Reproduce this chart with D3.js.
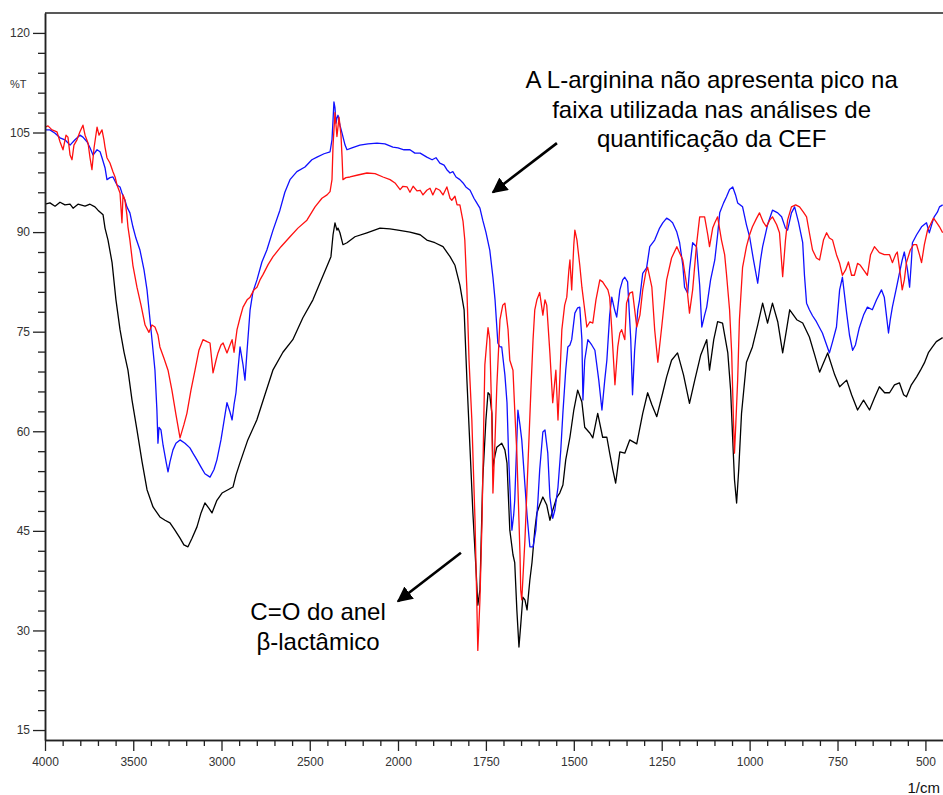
<!DOCTYPE html>
<html>
<head>
<meta charset="utf-8">
<script src="https://cdn.jsdelivr.net/npm/d3@7"></script>
<style>
  html, body { margin: 0; padding: 0; background: #fff; }
  svg { display: block; }
  text { font-family: Arial, "Liberation Sans", Helvetica, sans-serif; }
</style>
</head>
<body>
<svg id="chart" width="943" height="795"></svg>
<script>
// ---------------- DATA ----------------
// Wavenumber (1/cm) and transmittance (%T).
const yMajorTicks = [15, 30, 45, 60, 75, 90, 105, 120];
const xMajorTicks = [4000, 3500, 3000, 2500, 2000, 1750, 1500, 1250, 1000, 750, 500];
const yAxisTitle = "%T";
const xAxisTitle = "1/cm";

const blackSpectrum = [
[4000,94.2],[3972,94.4],[3943,93.9],[3915,94.5],[3887,94.1],[3858,94.2],[3841,93.6],[3813,94.2],[3773,93.9],[3745,94.2],[3717,93.8],[3700,93.3],[3671,92.6],[3660,90.6],[3643,88.8],[3620,85.4],[3598,79.8],[3575,75.3],[3552,71.9],[3530,69.2],[3507,64.7],[3479,60.2],[3450,55.4],[3422,51.2],[3388,48.6],[3349,47.1],[3320,46.6],[3292,46.2],[3264,45.1],[3235,43.9],[3213,42.9],[3190,42.6],[3167,43.9],[3139,45.6],[3116,47.7],[3094,49.2],[3071,48.4],[3054,47.7],[3026,49.6],[2997,50.7],[2963,51.2],[2935,51.6],[2918,53.4],[2896,55.2],[2851,58.7],[2800,61.7],[2754,65.5],[2709,69.2],[2652,71.9],[2596,73.8],[2539,77.1],[2482,79.8],[2443,82.3],[2403,84.8],[2380,86.3],[2368,89.6],[2357,91.4],[2346,90.3],[2340,90.6],[2329,89.9],[2312,88.1],[2289,88.4],[2244,89.3],[2176,89.9],[2102,90.6],[2046,90.5],[2000,90.3],[1966,90.0],[1937,89.6],[1918,88.8],[1895,88.4],[1872,87.8],[1852,86.3],[1838,85.0],[1824,82.0],[1812,78.3],[1804,67.7],[1795,57.2],[1787,47.7],[1778,39.1],[1773,33.8],[1767,36.1],[1759,52.7],[1750,61.7],[1744,65.8],[1739,65.5],[1733,62.7],[1730,54.6],[1724,56.4],[1719,57.6],[1705,58.2],[1696,57.2],[1690,55.2],[1682,45.1],[1673,41.4],[1668,40.2],[1662,33.1],[1656,27.5],[1651,30.8],[1645,35.0],[1639,34.6],[1633,33.1],[1625,37.6],[1619,40.2],[1611,45.1],[1605,47.7],[1597,48.9],[1588,50.1],[1577,48.9],[1568,46.6],[1560,48.1],[1548,50.1],[1540,50.7],[1531,51.9],[1523,55.7],[1511,59.1],[1500,63.2],[1489,66.2],[1477,64.4],[1469,60.6],[1454,59.7],[1446,59.0],[1432,62.7],[1418,59.1],[1406,59.1],[1398,56.7],[1389,54.2],[1381,52.2],[1369,56.9],[1355,56.7],[1341,58.7],[1321,58.1],[1304,62.7],[1290,65.8],[1278,64.0],[1264,62.2],[1247,65.8],[1236,68.2],[1222,70.7],[1205,71.8],[1188,68.5],[1171,64.2],[1156,67.7],[1139,71.5],[1122,73.8],[1114,69.2],[1102,73.8],[1091,76.5],[1077,76.3],[1062,71.8],[1054,66.2],[1048,58.7],[1043,52.7],[1037,49.2],[1031,54.2],[1023,62.7],[1009,70.4],[992,72.7],[977,76.0],[963,79.3],[949,76.3],[935,79.3],[920,76.5],[906,71.8],[895,75.3],[886,78.3],[866,76.8],[849,76.3],[830,74.2],[815,71.5],[801,68.9],[778,71.8],[758,68.5],[744,66.7],[724,67.7],[710,65.5],[693,63.2],[676,64.7],[659,63.2],[645,65.0],[631,66.7],[616,65.8],[602,65.8],[588,67.0],[574,67.3],[562,65.5],[554,65.2],[540,67.0],[525,68.2],[514,69.2],[503,70.3],[491,71.9],[480,72.7],[469,73.5],[460,73.8],[451,74.1]
];

const redSpectrum = [
[4000,105.8],[3983,106.0],[3960,105.4],[3932,105.1],[3915,103.6],[3898,102.4],[3881,104.6],[3870,104.3],[3858,101.6],[3847,100.9],[3836,103.1],[3819,103.9],[3802,105.1],[3785,106.1],[3773,104.6],[3756,103.4],[3745,101.2],[3734,99.4],[3722,102.7],[3705,105.8],[3694,104.6],[3677,105.4],[3666,103.9],[3660,102.8],[3649,101.2],[3632,100.4],[3615,99.1],[3603,98.3],[3592,97.1],[3575,95.9],[3564,91.4],[3558,95.6],[3547,94.8],[3536,92.6],[3530,90.8],[3519,88.8],[3502,85.0],[3479,81.7],[3456,79.0],[3433,76.0],[3411,74.9],[3394,76.0],[3377,75.7],[3360,74.5],[3349,72.7],[3326,71.0],[3303,69.2],[3281,66.2],[3258,62.5],[3235,59.0],[3213,61.0],[3196,62.7],[3173,66.2],[3150,69.2],[3128,72.2],[3105,73.8],[3082,73.5],[3065,73.3],[3048,68.8],[3031,70.7],[3020,71.8],[3003,73.0],[2991,73.3],[2969,71.8],[2952,73.0],[2940,73.8],[2929,71.9],[2912,75.3],[2895,77.1],[2878,78.7],[2855,79.8],[2838,80.2],[2816,81.3],[2799,81.7],[2782,82.8],[2765,83.6],[2736,85.1],[2708,86.3],[2663,87.8],[2612,89.3],[2567,90.6],[2516,91.8],[2470,93.8],[2431,95.1],[2402,95.6],[2385,96.1],[2374,97.9],[2368,103.1],[2357,108.0],[2346,104.4],[2334,107.3],[2323,104.6],[2317,101.3],[2312,97.9],[2295,98.2],[2272,98.3],[2227,98.6],[2176,98.9],[2130,98.8],[2085,98.3],[2045,97.9],[2017,97.4],[1994,96.4],[1986,96.9],[1974,96.8],[1966,96.0],[1957,96.9],[1946,96.2],[1937,96.3],[1929,95.6],[1918,96.3],[1909,96.6],[1901,95.6],[1892,96.6],[1881,96.3],[1872,95.6],[1861,96.8],[1852,95.1],[1847,94.8],[1838,95.4],[1832,94.1],[1824,94.1],[1815,91.6],[1810,88.8],[1804,81.3],[1798,70.7],[1790,61.7],[1781,46.6],[1776,34.6],[1773,27.0],[1767,34.6],[1761,46.6],[1756,61.7],[1753,70.0],[1744,75.6],[1739,73.8],[1733,61.7],[1730,50.7],[1724,58.7],[1719,66.7],[1710,76.8],[1702,79.0],[1696,79.3],[1687,75.3],[1682,70.7],[1673,69.2],[1668,63.2],[1662,56.7],[1656,46.6],[1653,41.4],[1651,36.1],[1648,34.6],[1645,37.6],[1639,43.6],[1631,54.2],[1622,66.2],[1616,73.7],[1611,78.3],[1605,79.8],[1597,80.9],[1588,77.5],[1582,79.8],[1577,79.0],[1568,71.8],[1560,64.3],[1551,69.2],[1545,61.7],[1540,67.7],[1534,75.3],[1526,79.0],[1520,80.2],[1514,84.3],[1511,85.8],[1506,81.3],[1500,88.1],[1497,90.3],[1491,88.8],[1489,87.8],[1483,85.0],[1477,81.7],[1469,78.3],[1463,75.7],[1454,76.5],[1446,76.3],[1437,79.8],[1426,82.8],[1418,82.5],[1412,82.0],[1403,81.3],[1398,80.2],[1392,75.3],[1383,67.0],[1375,72.7],[1369,74.8],[1364,75.3],[1355,73.8],[1350,79.3],[1341,80.8],[1333,81.0],[1321,75.7],[1312,77.5],[1304,81.3],[1295,84.0],[1290,84.7],[1278,81.7],[1270,75.3],[1261,70.4],[1250,75.7],[1236,82.8],[1222,86.1],[1207,87.8],[1190,85.8],[1179,82.0],[1171,77.8],[1162,81.3],[1151,88.1],[1142,92.3],[1128,92.3],[1119,89.6],[1114,87.8],[1105,90.6],[1099,91.4],[1091,92.3],[1080,88.8],[1071,86.6],[1066,83.8],[1057,78.3],[1051,71.8],[1046,61.7],[1043,56.7],[1040,60.2],[1034,67.7],[1029,76.8],[1020,84.7],[1009,87.8],[1000,89.6],[992,90.8],[980,92.1],[972,92.9],[961,91.5],[952,90.8],[943,91.8],[935,92.3],[923,91.1],[915,89.9],[906,83.3],[898,88.8],[892,91.8],[881,93.8],[869,94.1],[858,93.8],[847,93.0],[838,92.3],[830,89.9],[821,87.3],[810,86.1],[801,85.8],[790,88.8],[781,89.9],[773,89.1],[764,88.8],[753,86.6],[744,85.3],[736,83.5],[727,84.3],[719,85.5],[710,83.5],[702,83.5],[693,85.3],[685,85.0],[676,84.3],[665,83.5],[656,86.6],[645,87.8],[631,86.9],[617,86.6],[602,86.6],[594,85.4],[585,86.6],[580,87.0],[571,83.5],[566,81.3],[560,82.8],[554,85.4],[543,87.3],[534,88.1],[525,88.1],[517,86.6],[511,85.4],[503,88.1],[494,90.3],[486,91.1],[477,92.1],[469,91.5],[460,90.8],[451,89.9]
];

const blueSpectrum = [
[4000,105.4],[3972,105.4],[3943,104.9],[3915,104.2],[3887,103.9],[3858,103.1],[3830,103.9],[3802,104.6],[3785,104.3],[3762,103.6],[3745,102.7],[3728,101.6],[3705,102.4],[3688,102.1],[3677,101.2],[3660,99.7],[3649,97.9],[3632,98.2],[3615,98.3],[3592,97.1],[3575,96.8],[3564,95.9],[3547,94.8],[3536,93.8],[3519,92.9],[3502,90.8],[3485,89.1],[3462,87.3],[3439,84.3],[3422,81.3],[3405,76.8],[3388,72.2],[3377,69.2],[3366,63.2],[3360,58.2],[3354,60.6],[3343,60.2],[3331,57.9],[3314,55.4],[3303,53.9],[3292,55.4],[3275,57.2],[3258,58.2],[3235,58.7],[3207,58.2],[3179,57.5],[3162,56.7],[3139,55.7],[3116,54.6],[3094,53.6],[3065,53.1],[3043,54.2],[3026,55.7],[3003,58.7],[2980,62.5],[2969,64.3],[2952,62.9],[2940,61.7],[2929,64.0],[2918,65.8],[2907,69.2],[2895,72.7],[2878,70.0],[2867,67.7],[2855,72.2],[2838,78.3],[2822,81.0],[2799,82.8],[2771,85.5],[2743,87.3],[2708,90.3],[2669,93.3],[2641,96.0],[2612,97.9],[2573,99.1],[2527,99.8],[2488,100.9],[2459,101.3],[2419,101.8],[2385,102.1],[2374,103.9],[2368,106.9],[2363,109.6],[2357,108.7],[2351,106.4],[2346,107.2],[2340,107.6],[2329,106.1],[2317,104.9],[2300,103.1],[2289,102.4],[2261,102.7],[2216,103.1],[2170,103.3],[2119,103.4],[2074,103.3],[2029,102.8],[2000,102.7],[1983,102.4],[1966,102.4],[1952,101.9],[1937,101.9],[1918,101.3],[1903,100.9],[1892,101.2],[1881,100.4],[1869,100.1],[1861,99.4],[1852,98.9],[1844,99.1],[1835,98.3],[1824,97.9],[1815,97.4],[1807,96.8],[1795,96.3],[1784,95.1],[1776,94.4],[1767,93.6],[1759,91.8],[1750,90.0],[1739,87.3],[1730,83.2],[1724,79.8],[1716,73.3],[1710,72.7],[1705,72.7],[1696,68.5],[1690,64.3],[1685,55.7],[1679,48.1],[1676,45.1],[1671,47.4],[1668,49.6],[1662,58.7],[1659,63.2],[1653,60.9],[1648,58.7],[1639,51.9],[1633,47.4],[1625,42.6],[1616,42.6],[1608,45.1],[1602,49.6],[1597,54.2],[1588,59.9],[1582,60.2],[1574,56.7],[1568,50.1],[1560,46.9],[1554,48.1],[1545,51.6],[1537,57.2],[1531,62.8],[1523,69.2],[1517,72.7],[1511,73.0],[1506,73.8],[1497,77.8],[1489,78.6],[1483,78.7],[1477,73.8],[1474,64.7],[1469,70.7],[1460,73.8],[1449,73.0],[1440,72.2],[1429,67.7],[1420,63.2],[1412,67.7],[1406,70.7],[1398,77.5],[1392,80.2],[1384,78.3],[1378,77.2],[1369,81.3],[1361,82.8],[1355,83.2],[1347,82.5],[1338,73.8],[1333,65.5],[1327,72.2],[1318,78.3],[1313,79.8],[1304,83.8],[1293,84.6],[1284,87.8],[1270,88.8],[1256,90.6],[1247,91.4],[1236,92.1],[1227,91.8],[1219,91.4],[1207,90.0],[1199,88.4],[1190,85.0],[1185,81.7],[1176,80.8],[1171,84.3],[1162,88.4],[1151,87.8],[1142,82.0],[1136,75.7],[1128,77.5],[1122,78.7],[1111,82.8],[1099,85.8],[1091,89.6],[1085,92.9],[1074,94.4],[1066,95.3],[1057,96.4],[1048,96.8],[1040,95.6],[1034,94.4],[1020,93.8],[1009,91.1],[1000,89.3],[989,85.8],[977,82.3],[969,85.8],[963,87.8],[949,91.1],[935,93.3],[920,92.9],[909,92.3],[898,90.6],[892,90.3],[881,92.9],[872,93.8],[861,91.5],[849,88.4],[844,83.5],[838,79.3],[830,78.3],[821,77.4],[810,76.5],[801,75.6],[793,74.8],[781,73.0],[773,71.8],[764,73.5],[753,75.7],[744,81.3],[736,83.2],[724,77.8],[716,74.5],[707,72.2],[699,73.0],[688,75.6],[676,77.5],[665,78.7],[651,78.3],[639,79.8],[625,81.3],[617,80.2],[611,77.5],[605,74.8],[600,76.8],[594,78.7],[582,81.7],[574,83.8],[566,85.8],[560,87.0],[551,84.3],[545,81.7],[540,85.5],[537,88.4],[525,89.6],[511,90.8],[497,91.4],[489,89.9],[480,91.5],[475,92.3],[466,93.0],[460,93.8],[451,94.1]
];

// Annotations: text anchors and arrows (tail -> head) in data coordinates
const noteArginine = ["A L-arginina não apresenta pico na", "faixa utilizada nas análises de", "quantificação da CEF"];
const noteArginineAnchor = [1108, 111.7];
const noteCarbonyl = ["C=O do anel", "β-lactâmico"];
const noteCarbonylAnchor = [2453, 31.5];
const arrowArginine = [[1548, 103.4], [1730, 96.0]];
const arrowCarbonyl = [[1821, 41.7], [2000, 34.4]];

// ---------------- CHART ----------------
const svg = d3.select("#chart");
const mLeft = 45, mRight = 943, mTop = 13, mBottom = 740;

// Shimadzu-style abscissa: scale changes at 2000 1/cm
const x = d3.scaleLinear().domain([4000, 2000, 450]).range([mLeft, 398, mRight]);
const y = d3.scaleLinear().domain([123, 13.5]).range([mTop, mBottom]);

const axisColor = "#222";

// spectra
const line = d3.line().x(d => x(d[0])).y(d => y(d[1])).curve(d3.curveLinear);
svg.append("clipPath").attr("id", "plotclip").append("rect")
  .attr("x", mLeft).attr("y", mTop).attr("width", mRight - mLeft).attr("height", mBottom - mTop);
const plot = svg.append("g").attr("clip-path", "url(#plotclip)");
[[blackSpectrum, "#000000"], [blueSpectrum, "#1010ff"], [redSpectrum, "#ff1010"]].forEach(([data, color]) => {
  plot.append("path").datum(data).attr("d", line)
    .attr("fill", "none").attr("stroke", color).attr("stroke-width", 1.3)
    .attr("stroke-linejoin", "round");
});

// frame top line
svg.append("line").attr("x1", mLeft).attr("x2", mRight).attr("y1", mTop).attr("y2", mTop)
  .attr("stroke", axisColor).attr("stroke-width", 1.5);

// Y axis
const yMinor = d3.range(15, 121, 3).filter(v => !yMajorTicks.includes(v));
const yAxisMajor = d3.axisLeft(y).tickValues(yMajorTicks).tickSize(12).tickPadding(3).tickSizeOuter(0);
const yAxisMinor = d3.axisLeft(y).tickValues(yMinor).tickSize(7).tickFormat("").tickSizeOuter(0);
svg.append("g").attr("transform", `translate(${mLeft},0)`).call(yAxisMajor);
svg.append("g").attr("transform", `translate(${mLeft},0)`).call(yAxisMinor);

// X axis
const xMinor = d3.range(4000, 1999, -100).concat(d3.range(1950, 450, -50)).filter(v => !xMajorTicks.includes(v));
const xAxisMajor = d3.axisBottom(x).tickValues(xMajorTicks).tickSize(11).tickPadding(6).tickSizeOuter(0).tickFormat(d3.format("d"));
const xAxisMinor = d3.axisBottom(x).tickValues(xMinor).tickSize(6).tickFormat("").tickSizeOuter(0);
svg.append("g").attr("transform", `translate(0,${mBottom})`).call(xAxisMajor);
svg.append("g").attr("transform", `translate(0,${mBottom})`).call(xAxisMinor);

svg.selectAll(".domain").attr("stroke", axisColor).attr("stroke-width", 1.5);
svg.selectAll(".tick line").attr("stroke", axisColor).attr("stroke-width", 1.3);
svg.selectAll(".tick text").attr("fill", "#333").style("font-size", "12px")
  .style("font-family", "Arial, 'Liberation Sans', sans-serif");

// axis titles
svg.append("text").attr("x", 10).attr("y", 88).text(yAxisTitle)
  .attr("fill", "#333").style("font-size", "11px");
svg.append("text").attr("x", 940).attr("y", 793).attr("text-anchor", "end").text(xAxisTitle)
  .attr("fill", "#111").style("font-size", "15px");

// annotations
const defs = svg.append("defs");
defs.append("marker").attr("id", "arrowhead").attr("viewBox", "0 0 10 10")
  .attr("refX", 9).attr("refY", 5).attr("markerWidth", 6).attr("markerHeight", 6)
  .attr("markerUnits", "strokeWidth").attr("orient", "auto")
  .append("path").attr("d", "M0,0 L10,5 L0,10 Z").attr("fill", "#000");

[arrowArginine, arrowCarbonyl].forEach(a => {
  svg.append("line")
    .attr("x1", x(a[0][0])).attr("y1", y(a[0][1]))
    .attr("x2", x(a[1][0])).attr("y2", y(a[1][1]))
    .attr("stroke", "#000").attr("stroke-width", 2.6)
    .attr("marker-end", "url(#arrowhead)");
});

function addNote(lines, anchor, spacing) {
  const t = svg.append("text").attr("text-anchor", "middle").style("font-size", "24px").attr("fill", "#000");
  lines.forEach((s, i) => {
    t.append("tspan").attr("x", x(anchor[0])).attr("y", y(anchor[1]) + i * spacing).text(s);
  });
}
addNote(noteArginine, noteArginineAnchor, 29.5);
addNote(noteCarbonyl, noteCarbonylAnchor, 30);
</script>
</body>
</html>
